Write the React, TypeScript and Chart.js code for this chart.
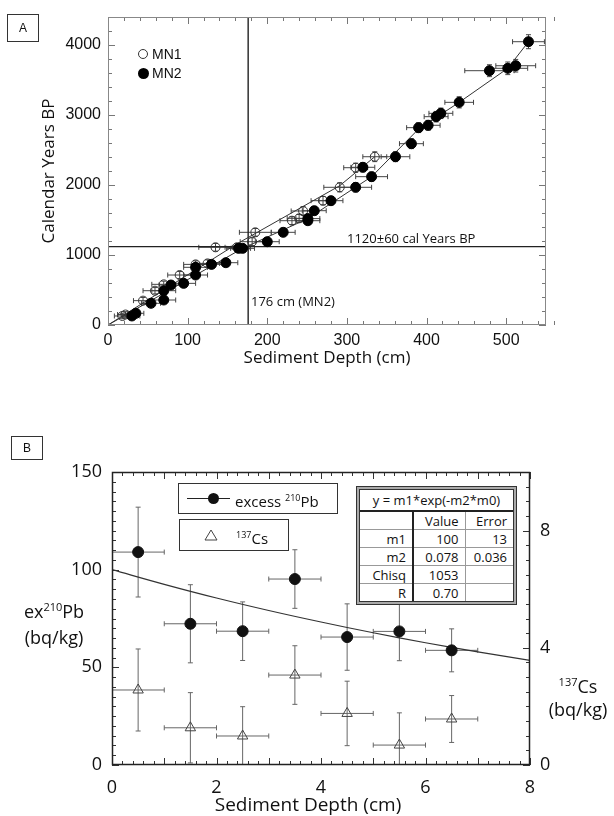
import React, { useEffect, useRef } from "react";
import { Chart, registerables } from "chart.js";
Chart.register(...registerables);

// ---------- Panel A data ----------
const mn1Depth = [18, 22, 44, 59, 70, 90, 110, 125, 135, 162, 181, 185, 231, 240, 245, 270, 291, 311, 335];
const mn1Age = [129, 150, 348, 490, 581, 714, 866, 880, 1110, 1110, 1190, 1324, 1490, 1524, 1629, 1776, 1967, 2247, 2404];
const mn1DepthErr = [10, 10, 12, 15, 15, 15, 15, 15, 21, 15, 15, 20, 15, 15, 15, 15, 20, 15, 15];
const mn1AgeErr = [40, 40, 45, 45, 45, 50, 50, 50, 55, 55, 55, 55, 55, 55, 60, 60, 65, 65, 70];

const mn2Depth = [30, 35, 54, 70, 70, 79, 95, 110, 110, 130, 148, 164, 169, 200, 220, 251, 251, 259, 280, 311, 331, 320, 361, 381, 390, 402, 412, 418, 441, 479, 502, 512, 528];
const mn2Age = [129, 167, 310, 357, 490, 571, 595, 714, 824, 866, 890, 1095, 1095, 1190, 1324, 1490, 1520, 1633, 1776, 1967, 2119, 2253, 2404, 2590, 2819, 2853, 2976, 3024, 3181, 3633, 3667, 3704, 4047];
const mn2DepthErr = [10, 10, 12, 15, 15, 15, 15, 15, 15, 15, 15, 15, 15, 15, 15, 15, 15, 15, 15, 20, 20, 15, 18, 15, 15, 15, 15, 15, 18, 31, 25, 25, 20];
const mn2AgeErr = [40, 40, 45, 45, 45, 45, 50, 50, 50, 50, 50, 55, 55, 55, 55, 55, 55, 60, 60, 65, 65, 65, 70, 70, 70, 70, 75, 75, 80, 85, 90, 90, 100];

const mn1LineDepth = [0, 162, 291, 335];
const mn1LineAge = [0, 1160, 1990, 2404];
const mn2LineDepth = [0, 169, 251, 331, 390, 441, 502, 528];
const mn2LineAge = [0, 1095, 1520, 2119, 2800, 3181, 3667, 4047];

const markerDepth = 176;
const markerAge = 1120;

const aXTicks = [0, 100, 200, 300, 400, 500];
const aYTicks = [0, 1000, 2000, 3000, 4000];

// ---------- Panel B data ----------
const bDepth = [0.5, 1.5, 2.5, 3.5, 4.5, 5.5, 6.5];
const bDepthErr = [0.5, 0.5, 0.5, 0.5, 0.5, 0.5, 0.5];
const pbValue = [109, 72.3, 68.5, 95.2, 65.5, 68.4, 58.7];
const pbErr = [23, 20, 15, 15, 17, 15, 11];
const csValue = [2.56, 1.27, 0.99, 3.07, 1.76, 0.68, 1.57];
const csErr = [1.4, 1.2, 1.0, 1.0, 1.1, 1.1, 0.8];
const fitDepth = [0, 1, 2, 3, 4, 5, 6, 7, 8];
const fitValue = [100, 92.5, 85.5, 79.1, 73.2, 67.7, 62.6, 57.9, 53.6];

const bXTicks = [0, 2, 4, 6, 8];
const bYTicks = [0, 50, 100, 150];
const bY2Ticks = [0, 4, 8];

const MYRIAD = "'Open Sans', 'Noto Sans', sans-serif";
const HELV = "'Liberation Sans', Arial, sans-serif";

const pts = (xs: number[], ys: number[]) => xs.map((x, i) => ({ x, y: ys[i] }));
const plain = (v: any) => String(v);

const boxTicksPlugin = {
  id: "boxTicks",
  afterDraw(chart: any, _a: any, opts: any) {
    const { ctx, chartArea: a } = chart;
    ctx.save();
    ctx.strokeStyle = opts.color;
    ctx.lineWidth = 1;
    for (const s of opts.sets) {
      const scale = chart.scales[s.scale];
      const n = Math.round((scale.max - scale.min) / s.minor);
      for (let i = 0; i <= n; i++) {
        const v = scale.min + i * s.minor;
        const r = v / s.major;
        const major = Math.abs(r - Math.round(r)) < 1e-6;
        const len = major ? s.majorLen : s.minorLen;
        const p = Math.round(scale.getPixelForValue(v)) + 0.5;
        ctx.beginPath();
        for (const side of s.sides) {
          if (side === "bottom") { ctx.moveTo(p, a.bottom); ctx.lineTo(p, a.bottom - len); }
          if (side === "top") { ctx.moveTo(p, a.top); ctx.lineTo(p, a.top + len); }
          if (side === "left") { ctx.moveTo(a.left, p); ctx.lineTo(a.left + len, p); }
          if (side === "right") { ctx.moveTo(a.right, p); ctx.lineTo(a.right - len, p); }
        }
        ctx.stroke();
      }
    }
    ctx.strokeStyle = opts.frameColor;
    ctx.lineWidth = opts.frameWidth;
    ctx.strokeRect(a.left + 0.5, a.top + 0.5, a.right - a.left - 1, a.bottom - a.top - 1);
    ctx.restore();
  },
};

const errorBarsPlugin = {
  id: "errorBars",
  beforeDatasetsDraw(chart: any) {
    const { ctx, chartArea: a } = chart;
    ctx.save();
    ctx.beginPath();
    ctx.rect(a.left, a.top, a.right - a.left, a.bottom - a.top);
    ctx.clip();
    chart.data.datasets.forEach((ds: any, i: number) => {
      if (!ds.errX && !ds.errY) return;
      const meta = chart.getDatasetMeta(i);
      const xs = chart.scales[meta.xAxisID];
      const ys = chart.scales[meta.yAxisID];
      ctx.strokeStyle = ds.errColor;
      ctx.lineWidth = 1;
      const cap = ds.errCap;
      ds.data.forEach((pt: any, j: number) => {
        const x = xs.getPixelForValue(pt.x);
        const y = ys.getPixelForValue(pt.y);
        const ex = ds.errX ? ds.errX[j] : 0;
        const ey = ds.errY ? ds.errY[j] : 0;
        ctx.beginPath();
        if (ex) {
          const x1 = xs.getPixelForValue(pt.x - ex);
          const x2 = xs.getPixelForValue(pt.x + ex);
          ctx.moveTo(x1, y); ctx.lineTo(x2, y);
          ctx.moveTo(x1, y - cap); ctx.lineTo(x1, y + cap);
          ctx.moveTo(x2, y - cap); ctx.lineTo(x2, y + cap);
        }
        if (ey) {
          const y1 = ys.getPixelForValue(pt.y - ey);
          const y2 = ys.getPixelForValue(pt.y + ey);
          ctx.moveTo(x, y1); ctx.lineTo(x, y2);
          ctx.moveTo(x - cap, y1); ctx.lineTo(x + cap, y1);
          ctx.moveTo(x - cap, y2); ctx.lineTo(x + cap, y2);
        }
        ctx.stroke();
      });
    });
    ctx.restore();
  },
};

const setTicks = (vals: number[]) => (s: any) => {
  s.ticks = vals.map((v) => ({ value: v }));
};

export default function App() {
  const refA = useRef<HTMLCanvasElement>(null);
  const refB = useRef<HTMLCanvasElement>(null);

  useEffect(() => {
    document.body.style.margin = "0";
    const chartA = new Chart(refA.current!, {
      type: "scatter",
      data: {
        datasets: [
          {
            data: pts(mn2Depth, mn2Age),
            errX: mn2DepthErr, errY: mn2AgeErr, errColor: "#444", errCap: 2.5,
            pointStyle: "circle", pointRadius: 5, pointBackgroundColor: "#000", pointBorderColor: "#000", pointBorderWidth: 1,
            showLine: false,
          } as any,
          {
            data: pts(mn1Depth, mn1Age),
            errX: mn1DepthErr, errY: mn1AgeErr, errColor: "#444", errCap: 2.5,
            pointStyle: "circle", pointRadius: 4.5, pointBackgroundColor: "rgba(0,0,0,0)", pointBorderColor: "#333", pointBorderWidth: 1,
            showLine: false,
          } as any,
          { data: pts(mn1LineDepth, mn1LineAge), showLine: true, borderColor: "#333", borderWidth: 1, pointRadius: 0 },
          { data: pts(mn2LineDepth, mn2LineAge), showLine: true, borderColor: "#333", borderWidth: 1, pointRadius: 0 },
          { data: [{ x: markerDepth, y: 0 }, { x: markerDepth, y: 4400 }], showLine: true, borderColor: "#222", borderWidth: 1.4, pointRadius: 0 },
          { data: [{ x: 0, y: markerAge }, { x: 550, y: markerAge }], showLine: true, borderColor: "#222", borderWidth: 1.4, pointRadius: 0 },
        ],
      },
      options: {
        animation: false,
        responsive: false,
        layout: { padding: { top: 17, right: 68, left: 0, bottom: 0 } },
        plugins: {
          legend: { display: false },
          tooltip: { enabled: false },
          boxTicks: {
            color: "#777", frameColor: "#888", frameWidth: 1,
            sets: [
              { scale: "x", minor: 20, major: 100, minorLen: 4, majorLen: 7, sides: ["bottom", "top"] },
              { scale: "y", minor: 200, major: 1000, minorLen: 4, majorLen: 7, sides: ["left", "right"] },
            ],
          },
        } as any,
        scales: {
          x: {
            type: "linear", min: 0, max: 550,
            afterBuildTicks: setTicks(aXTicks),
            afterFit: (s: any) => { s.height = 55; },
            grid: { display: false, drawTicks: false },
            border: { display: false },
            ticks: { font: { family: HELV, size: 16 }, color: "#111", padding: 6, maxRotation: 0, callback: plain },
            title: { display: true, text: "Sediment Depth (cm)", font: { family: MYRIAD, size: 17 }, color: "#111", padding: { top: 0, bottom: 12 } },
          },
          y: {
            type: "linear", min: 0, max: 4400,
            afterBuildTicks: setTicks(aYTicks),
            afterFit: (s: any) => { s.width = 108; },
            grid: { display: false, drawTicks: false },
            border: { display: false },
            ticks: { font: { family: HELV, size: 16 }, color: "#111", padding: 7, callback: plain },
            title: { display: true, text: "Calendar Years BP", font: { family: MYRIAD, size: 17 }, color: "#111", padding: { top: 39, bottom: 0 } },
          },
        },
      },
      plugins: [errorBarsPlugin, boxTicksPlugin],
    } as any);

    const chartB = new Chart(refB.current!, {
      type: "scatter",
      data: {
        datasets: [
          {
            data: pts(bDepth, pbValue), yAxisID: "y",
            errX: bDepthErr, errY: pbErr, errColor: "#666", errCap: 2.5,
            pointStyle: "circle", pointRadius: 5.5, pointBackgroundColor: "#111", pointBorderColor: "#111",
            showLine: false,
          } as any,
          {
            data: pts(bDepth, csValue), yAxisID: "y2",
            errX: bDepthErr, errY: csErr, errColor: "#666", errCap: 2.5,
            pointStyle: "triangle", pointRadius: 6, pointBackgroundColor: "rgba(0,0,0,0)", pointBorderColor: "#444", pointBorderWidth: 1,
            showLine: false,
          } as any,
          { data: pts(fitDepth, fitValue), yAxisID: "y", showLine: true, tension: 0.4, borderColor: "#333", borderWidth: 1.2, pointRadius: 0 },
        ],
      },
      options: {
        animation: false,
        responsive: false,
        layout: { padding: { top: 42, right: 0, left: 0, bottom: 0 } },
        plugins: {
          legend: { display: false },
          tooltip: { enabled: false },
          boxTicks: {
            color: "#333", frameColor: "#222", frameWidth: 1.5,
            sets: [
              { scale: "x", minor: 0.2, major: 1, minorLen: 4, majorLen: 7, sides: ["bottom", "top"] },
              { scale: "y", minor: 5, major: 50, minorLen: 4, majorLen: 7, sides: ["left"] },
              { scale: "y2", minor: 0.5, major: 4, minorLen: 4, majorLen: 7, sides: ["right"] },
            ],
          },
        } as any,
        scales: {
          x: {
            type: "linear", min: 0, max: 8,
            afterBuildTicks: setTicks(bXTicks),
            afterFit: (s: any) => { s.height = 51; },
            grid: { display: false, drawTicks: false },
            border: { display: false },
            ticks: { font: { family: MYRIAD, size: 18 }, color: "#111", padding: 12, maxRotation: 0, callback: plain },
          },
          y: {
            type: "linear", position: "left", min: 0, max: 150,
            afterBuildTicks: setTicks(bYTicks),
            afterFit: (s: any) => { s.width = 112; },
            grid: { display: false, drawTicks: false },
            border: { display: false },
            ticks: { font: { family: MYRIAD, size: 18 }, color: "#111", padding: 10, callback: plain },
          },
          y2: {
            type: "linear", position: "right", min: 0, max: 10,
            afterBuildTicks: setTicks(bY2Ticks),
            afterFit: (s: any) => { s.width = 84; },
            grid: { display: false, drawTicks: false },
            border: { display: false },
            ticks: { font: { family: MYRIAD, size: 18 }, color: "#111", padding: 10, callback: plain },
          },
        },
      },
      plugins: [errorBarsPlugin, boxTicksPlugin],
    } as any);

    return () => {
      chartA.destroy();
      chartB.destroy();
    };
  }, []);

  const abs = (s: React.CSSProperties): React.CSSProperties => ({ position: "absolute", ...s });
  const cell: React.CSSProperties = { textAlign: "right", padding: "0 6px 0 0", height: 17, borderBottom: "1px solid #999" };

  return (
    <div style={{ position: "absolute", left: 0, top: 0, width: 614, height: 816, background: "#fff", overflow: "hidden" }}>
      <canvas ref={refA} width={614} height={380} style={abs({ left: 0, top: 0, width: 614, height: 380 })} />
      <canvas ref={refB} width={614} height={386} style={abs({ left: 0, top: 430, width: 614, height: 386 })} />

      {/* Panel labels */}
      <div style={abs({ left: 7, top: 14, width: 32, height: 28, border: "1px solid #333", boxSizing: "border-box", font: `12px ${HELV}`, display: "flex", alignItems: "center", justifyContent: "center", color: "#111" })}>A</div>
      <div style={abs({ left: 11, top: 436, width: 32, height: 24, border: "1px solid #333", boxSizing: "border-box", font: `12px ${HELV}`, display: "flex", alignItems: "center", justifyContent: "center", color: "#111" })}>B</div>

      {/* Legend A */}
      <div style={abs({ left: 138, top: 49, width: 10, height: 10, border: "1px solid #333", borderRadius: "50%", boxSizing: "border-box" })} />
      <div style={abs({ left: 152, top: 46, font: `14px ${HELV}`, lineHeight: "16px", color: "#111" })}>MN1</div>
      <div style={abs({ left: 137.5, top: 67.5, width: 11, height: 11, background: "#000", borderRadius: "50%" })} />
      <div style={abs({ left: 152, top: 65, font: `14px ${HELV}`, lineHeight: "16px", color: "#111" })}>MN2</div>

      {/* Annotations A */}
      <div style={abs({ left: 347, top: 230, font: `13px ${MYRIAD}`, lineHeight: "16px", color: "#111", whiteSpace: "nowrap" })}>1120±60 cal Years BP</div>
      <div style={abs({ left: 251, top: 293, font: `13px ${MYRIAD}`, lineHeight: "16px", color: "#111", whiteSpace: "nowrap" })}>176 cm (MN2)</div>

      {/* Legend B */}
      <div style={abs({ left: 178, top: 483, width: 160, height: 31, border: "1px solid #333", boxSizing: "border-box", background: "#fff" })} />
      <div style={abs({ left: 187, top: 497.5, width: 43, height: 1, background: "#222" })} />
      <div style={abs({ left: 207.5, top: 492.5, width: 11, height: 11, background: "#111", borderRadius: "50%" })} />
      <div style={abs({ left: 235, top: 488, font: `15px ${MYRIAD}`, lineHeight: "20px", color: "#111", whiteSpace: "nowrap" })}>
        excess <sup style={{ fontSize: 9, verticalAlign: 6 }}>210</sup>Pb
      </div>
      <div style={abs({ left: 179, top: 519, width: 110, height: 32, border: "1px solid #333", boxSizing: "border-box", background: "#fff" })} />
      <svg style={abs({ left: 204, top: 529 })} width={14} height={12}>
        <polygon points="7,1 13,11 1,11" fill="none" stroke="#444" strokeWidth={1} />
      </svg>
      <div style={abs({ left: 236, top: 525, font: `15px ${MYRIAD}`, lineHeight: "20px", color: "#111", whiteSpace: "nowrap" })}>
        <sup style={{ fontSize: 9, verticalAlign: 6 }}>137</sup>Cs
      </div>

      {/* Fit table */}
      <div style={abs({ left: 356, top: 486, width: 161, height: 119, border: "1px solid #333", background: "#aaa", padding: 2, boxSizing: "border-box" })}>
        <div style={{ border: "1px solid #333", background: "#fff", width: "100%", height: "100%", boxSizing: "border-box", font: `13px ${MYRIAD}`, color: "#111" }}>
          <table style={{ borderCollapse: "collapse", width: "100%", tableLayout: "fixed", lineHeight: "16px" }}>
            <colgroup>
              <col style={{ width: 53 }} />
              <col style={{ width: 52 }} />
              <col style={{ width: 48 }} />
            </colgroup>
            <tbody>
              <tr>
                <td colSpan={3} style={{ textAlign: "center", height: 18, borderBottom: "2px solid #222" }}>y = m1*exp(-m2*m0)</td>
              </tr>
              <tr>
                <td style={{ ...cell, borderRight: "2px solid #222" }}></td>
                <td style={{ ...cell, borderRight: "1px solid #999" }}>Value</td>
                <td style={cell}>Error</td>
              </tr>
              <tr>
                <td style={{ ...cell, borderRight: "2px solid #222" }}>m1</td>
                <td style={{ ...cell, borderRight: "1px solid #999" }}>100</td>
                <td style={cell}>13</td>
              </tr>
              <tr>
                <td style={{ ...cell, borderRight: "2px solid #222" }}>m2</td>
                <td style={{ ...cell, borderRight: "1px solid #999" }}>0.078</td>
                <td style={cell}>0.036</td>
              </tr>
              <tr>
                <td style={{ ...cell, borderRight: "2px solid #222" }}>Chisq</td>
                <td style={{ ...cell, borderRight: "1px solid #999" }}>1053</td>
                <td style={cell}></td>
              </tr>
              <tr>
                <td style={{ ...cell, borderRight: "2px solid #222", borderBottom: "none" }}>R</td>
                <td style={{ ...cell, borderRight: "1px solid #999", borderBottom: "none" }}>0.70</td>
                <td style={{ ...cell, borderBottom: "none" }}></td>
              </tr>
            </tbody>
          </table>
        </div>
      </div>

      {/* Axis titles B */}
      <div style={abs({ left: 0, top: 594, width: 108, textAlign: "center", font: `18px ${MYRIAD}`, lineHeight: "26px", color: "#111" })}>
        ex<sup style={{ fontSize: 11, verticalAlign: 7 }}>210</sup>Pb<br />(bq/kg)
      </div>
      <div style={abs({ left: 540, top: 670, width: 76, textAlign: "center", font: `18px ${MYRIAD}`, lineHeight: "23px", color: "#111" })}>
        <sup style={{ fontSize: 11, verticalAlign: 7 }}>137</sup>Cs<br />(bq/kg)
      </div>
      <div style={abs({ left: 198, top: 792, width: 220, textAlign: "center", font: `19px ${MYRIAD}`, lineHeight: "24px", color: "#111", whiteSpace: "nowrap" })}>
        Sediment Depth (cm)
      </div>
    </div>
  );
}
